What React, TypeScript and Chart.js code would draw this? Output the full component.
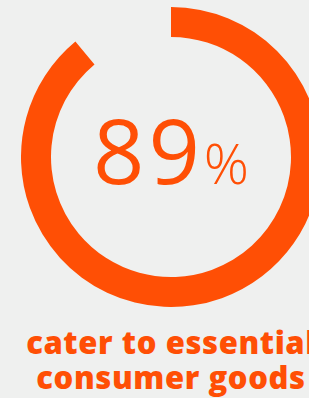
import React, { useEffect, useRef } from "react";
import { Chart, registerables } from "chart.js";

Chart.register(...registerables);

const categories = ["Essential consumer goods", "Other"];
const values = [89, 11];
const percentLabel = "89";
const captionLines = ["cater to essential", "consumer goods"];

const ORANGE = "#FF4F05";
const BG = "#EFF0EF";

export default function App() {
  const ref = useRef<HTMLCanvasElement | null>(null);

  useEffect(() => {
    if (!ref.current) return;
    const chart = new Chart(ref.current, {
      type: "doughnut",
      data: {
        labels: categories,
        datasets: [
          {
            data: values,
            backgroundColor: [ORANGE, "rgba(0,0,0,0)"],
            borderWidth: 0,
            hoverOffset: 0,
          },
        ],
      },
      options: {
        animation: false,
        responsive: false,
        cutout: "80%",
        rotation: 0,
        circumference: 360,
        layout: { padding: 0 },
        plugins: {
          legend: { display: false },
          tooltip: { enabled: false },
        },
      },
    });
    return () => chart.destroy();
  }, []);

  return (
    <div
      style={{
        position: "fixed",
        left: 0,
        top: 0,
        width: 309,
        height: 398,
        overflow: "hidden",
        background: BG,
      }}
    >
      <canvas
        ref={ref}
        width={300}
        height={300}
        style={{ position: "absolute", left: 21, top: 7, width: 300, height: 300 }}
      />
      <div
        style={{
          position: "absolute",
          left: -29,
          width: 400,
          top: 94,
          textAlign: "center",
          whiteSpace: "nowrap",
          color: ORANGE,
          fontFamily: "'Open Sans', sans-serif",
          fontWeight: 400,
          lineHeight: "110px",
        }}
      >
        <span style={{ fontSize: 90, letterSpacing: 4 }}>{percentLabel}</span>
        <span style={{ fontSize: 56, fontWeight: 300 }}>%</span>
      </div>
      <div
        style={{
          position: "absolute",
          left: -29,
          width: 400,
          top: 325,
          textAlign: "center",
          whiteSpace: "nowrap",
          color: ORANGE,
          fontFamily: "'Open Sans', sans-serif",
          fontWeight: 800,
          fontSize: 31,
          letterSpacing: 0.6,
          lineHeight: "35px",
        }}
      >
        {captionLines.map((l) => (
          <div key={l}>{l}</div>
        ))}
      </div>
    </div>
  );
}
